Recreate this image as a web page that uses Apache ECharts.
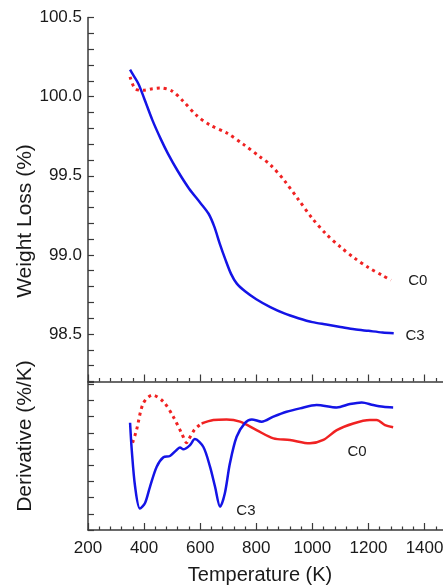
<!DOCTYPE html>
<html><head><meta charset="utf-8">
<script src="https://cdn.jsdelivr.net/npm/echarts@6/dist/echarts.min.js"></script>
<style>html,body{margin:0;padding:0;background:#fff}#c{width:443px;height:587px}</style>
</head><body><div id="c"></div>
<script>
// Top panel: weight loss (%)
const tempC3Top = [350,360,380,400,430,460,485,520,560,600,630,650,670,690,710,730,760,800,850,900,950,1000,1050,1100,1150,1200,1250,1290];
const wlC3 =      [100.17,100.14,100.08,99.99,99.85,99.73,99.64,99.53,99.42,99.33,99.26,99.18,99.07,98.97,98.88,98.82,98.77,98.72,98.67,98.63,98.60,98.575,98.56,98.545,98.53,98.52,98.51,98.505];
const tempC0Top = [350,368,396,430,457,500,540,588,635,695,753,813,850,900,950,1000,1050,1100,1150,1200,1250,1280];
const wlC0 =      [100.125,100.05,100.04,100.05,100.055,100.035,99.97,99.88,99.82,99.77,99.70,99.62,99.57,99.47,99.35,99.23,99.13,99.05,98.98,98.92,98.87,98.84];
// Bottom panel: derivative (arbitrary units)
const tempC0DerA = [359,373,397,430,469,504,534,552,558,580,605];
const derC0A =     [5.39,6.17,7.82,8.33,7.92,7.0,5.97,5.39,5.56,6.2,6.58];
const tempC0DerB = [605,647,694,742,801,861,920,991,1039,1087,1146,1205,1229,1259,1288];
const derC0B =     [6.58,6.79,6.83,6.69,6.17,5.66,5.56,5.35,5.56,6.17,6.58,6.79,6.79,6.48,6.34];
const tempC3Der = [350,356,368,385,403,421,445,469,492,516,528,540,564,581,611,635,653,671,688,706,730,760,784,819,861,908,956,1015,1087,1134,1176,1217,1253,1288];
const derC3 =     [6.62,4.94,2.67,1.33,1.65,2.67,3.91,4.49,4.57,4.94,5.1,4.98,5.25,5.62,5.14,3.91,2.67,1.44,2.27,4.12,5.76,6.62,6.83,6.69,7.0,7.3,7.51,7.72,7.57,7.78,7.88,7.72,7.61,7.57];
const xTicks = [200,400,600,800,1000,1200,1400];
const seriesNames = ['C0','C3'];

const zip = (a,b)=>a.map((v,i)=>[v,b[i]]);
const BLUE='#1414e6', RED='#f02222', AX='#3a3a3a', TXT='#1a1a1a';
const FONT='"Liberation Sans", Arial, Helvetica, sans-serif';
const axisLine={show:true,onZero:false,lineStyle:{color:AX,width:1.5}};
const gridL=88, gridW=364.6;

const chart=echarts.init(document.getElementById('c'),null,{renderer:'canvas'});
const lbl=(txt)=>({show:true,formatter:txt,position:'inside',color:TXT,fontSize:15,fontFamily:FONT});
const mp=(coord,txt)=>({symbol:'circle',symbolSize:0,silent:true,label:lbl(txt),data:[{coord:coord,value:txt}]});

chart.setOption({
  animation:false,
  backgroundColor:'#fff',
  grid:[
    {left:gridL,top:17.5,width:gridW,height:364,containLabel:false,outerBoundsMode:'none'},
    {left:gridL,top:382,width:gridW,height:148,containLabel:false,outerBoundsMode:'none'}
  ],
  xAxis:[
    {gridIndex:0,type:'value',min:200,max:1500,interval:200,axisLine:axisLine,
     axisTick:{show:true,inside:true,length:7,lineStyle:{color:AX,width:1.2}},
     minorTick:{show:true,splitNumber:5,length:3.5,lineStyle:{color:AX,width:1.2}},
     axisLabel:{show:false},splitLine:{show:false}},
    {gridIndex:1,type:'value',min:200,max:1500,interval:200,axisLine:axisLine,
     axisTick:{show:true,inside:true,length:7,lineStyle:{color:AX,width:1.2}},
     minorTick:{show:true,splitNumber:5,length:3.5,lineStyle:{color:AX,width:1.2}},
     axisLabel:{show:true,margin:10,color:TXT,fontSize:17,fontFamily:FONT,hideOverlap:false,
       formatter:v=>xTicks.includes(v)?String(v):''},
     splitLine:{show:false}}
  ],
  yAxis:[
    {gridIndex:0,type:'value',min:98.2,max:100.5,interval:0.1,axisLine:axisLine,
     axisTick:{show:true,inside:true,length:6,lineStyle:{color:AX,width:1.2}},
     axisLabel:{show:true,margin:6,color:TXT,fontSize:17,fontFamily:FONT,
       formatter:v=>Math.abs(v*2-Math.round(v*2))<1e-6?v.toFixed(1):''},
     splitLine:{show:false}},
    {gridIndex:1,type:'value',min:0,max:9.14,interval:1,axisLine:axisLine,
     axisTick:{show:true,inside:true,length:6,lineStyle:{color:AX,width:1.2}},
     axisLabel:{show:false},splitLine:{show:false}}
  ],
  series:[
    {name:seriesNames[0],type:'line',xAxisIndex:0,yAxisIndex:0,data:zip(tempC0Top,wlC0),showSymbol:false,smooth:0.3,
     lineStyle:{color:RED,width:3,type:[3,4],cap:'butt'},markPoint:mp([1376,98.835],'C0')},
    {name:seriesNames[1],type:'line',xAxisIndex:0,yAxisIndex:0,data:zip(tempC3Top,wlC3),showSymbol:false,smooth:0.3,
     lineStyle:{color:BLUE,width:2.5},markPoint:mp([1366,98.487],'C3')},
    {name:seriesNames[0]+'d1',type:'line',xAxisIndex:1,yAxisIndex:1,data:zip(tempC0DerA,derC0A),showSymbol:false,smooth:0.3,
     lineStyle:{color:RED,width:3,type:[3,4],cap:'butt'}},
    {name:seriesNames[0]+'d2',type:'line',xAxisIndex:1,yAxisIndex:1,data:zip(tempC0DerB,derC0B),showSymbol:false,smooth:0.3,
     lineStyle:{color:RED,width:2.5},markPoint:mp([1159,4.81],'C0')},
    {name:seriesNames[1]+'d',type:'line',xAxisIndex:1,yAxisIndex:1,data:zip(tempC3Der,derC3),showSymbol:false,smooth:0.3,
     lineStyle:{color:BLUE,width:2.5},markPoint:mp([763,1.17],'C3')}
  ],
  graphic:[
    {type:'text',x:25,y:221,rotation:Math.PI/2,style:{text:'Weight Loss (%)',fill:TXT,font:'21px '+FONT,textAlign:'center',textVerticalAlign:'middle'}},
    {type:'text',x:25,y:436,rotation:Math.PI/2,style:{text:'Derivative (%/K)',fill:TXT,font:'21px '+FONT,textAlign:'center',textVerticalAlign:'middle'}},
    {type:'text',x:260,y:575,style:{text:'Temperature (K)',fill:TXT,font:'20px '+FONT,textAlign:'center',textVerticalAlign:'middle'}}
  ]
});
</script></body></html>
